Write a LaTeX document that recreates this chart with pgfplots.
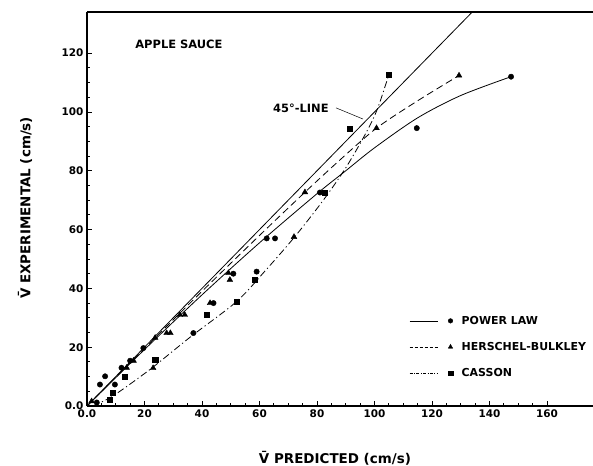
\documentclass[border=0pt]{standalone}
\usepackage{pgfplots}
\pgfplotsset{compat=1.18}
\usepackage{fontspec}
\setmainfont{DejaVu Sans}

\pgfplotstableread{
x y
0 0
20 19.2
40 37.8
60 55.5
80 72.2
90 80.0
100 87.8
115 98.0
130 105.6
147.5 112
}\powercurve

\pgfplotstableread{
x y
0 0
20 19.6
40 39.0
60 58.0
75.8 72.7
88 83.7
100.7 94.5
115 103.8
129.4 112.4
}\hbcurve

\pgfplotstableread{
x y
2 0
9 3.4
22 12.5
36 23.5
52 35.5
62 46
72.3 57.6
82.2 70
90 81
97 92.8
101 101
105 112.7
}\cassoncurve

\pgfplotstableread{
x y
3.4 1.2
4.5 7.3
6.3 10.1
9.7 7.3
12 13
15 15.4
19.6 19.7
37 24.8
44 35
50.9 45
59 45.7
62.5 57
65.4 57
81 72.6
114.7 94.5
147.5 112
}\powerpts

\pgfplotstableread{
x y
1.6 1.6
13.8 13
16.2 15.4
23 12.9
23.7 23.2
27.7 24.8
29 24.8
32.3 31
34 31
42.8 35
49.7 42.9
49.2 45.2
72 57.5
75.8 72.7
100.7 94.5
129.4 112.4
}\hbpts

\pgfplotstableread{
x y
8 2.2
9 4.6
13.2 10.1
23.7 15.8
41.6 31
52 35.5
58.4 42.9
82.8 72.6
91.5 94.3
105 112.7
}\cassonpts

\begin{document}
\begin{tikzpicture}
\begin{axis}[
  scale only axis,
  width=506bp, height=394bp,
  xmin=0, xmax=176, ymin=0, ymax=134,
  axis y line=left,
  axis line style={-, line width=1.6pt},
  y axis line style={-},
  xtick pos=bottom,
  tick align=inside,
  xtick={0,20,...,160},
  xticklabels={0.0,20,40,60,80,100,120,140,160},
  ytick={0,20,...,120},
  yticklabels={0.0,20,40,60,80,100,120},
  minor x tick num=3, minor y tick num=3,
  major tick length=5bp, minor tick length=3bp,
  tick style={line width=0.8pt, black},
  tick label style={font=\bfseries\fontsize{10.5}{12}\selectfont},
  xlabel={V̄ PREDICTED (cm/s)},
  ylabel={V̄ EXPERIMENTAL (cm/s)},
  label style={font=\bfseries\fontsize{13.5}{16}\selectfont},
  x label style={at={(axis description cs:0.49,-0.132)}, anchor=center},
  y label style={at={(axis description cs:-0.1225,0.503)}, anchor=center, rotate=0},
  legend style={at={(axis cs:112,31)}, anchor=north west, draw=none, fill=none,
     font=\bfseries\fontsize{11}{13}\selectfont, row sep=14.5bp, inner sep=0pt,
     nodes={inner sep=1pt}},
  legend cell align=left,
]
% 45 degree line
\addplot[line width=0.8pt, no marks, forget plot] coordinates {(0,0) (140,140)};
% fitted curves
\addplot[line width=0.8pt, smooth, no marks, forget plot] table {\powercurve};
\addplot[line width=0.8pt, smooth, no marks, dash pattern=on 7bp off 4bp, forget plot] table {\hbcurve};
\addplot[line width=0.8pt, smooth, no marks, dash pattern=on 7bp off 3bp on 1.2bp off 3bp, forget plot] table {\cassoncurve};
% data points
\addplot[only marks, mark=*, mark size=2.7bp, forget plot] table {\powerpts};
\addplot[only marks, mark=triangle*, mark size=3.3bp, forget plot] table {\hbpts};
\addplot[only marks, mark=square*, mark size=2.6bp, forget plot] table {\cassonpts};
% legend images
\addlegendimage{legend image code/.code={
  \draw[line width=0.6pt] (0bp,0bp) -- (28bp,0bp);
  \draw plot[mark=*, mark size=2.3bp] coordinates {(41bp,0bp)};
  \path (51bp,0bp);}}
\addlegendentry{POWER LAW}
\addlegendimage{legend image code/.code={
  \draw[line width=0.6pt, dash pattern=on 3bp off 2bp] (0bp,0bp) -- (28bp,0bp);
  \draw plot[mark=triangle*, mark size=2.6bp] coordinates {(41bp,0bp)};
  \path (51bp,0bp);}}
\addlegendentry{HERSCHEL-BULKLEY}
\addlegendimage{legend image code/.code={
  \draw[line width=0.6pt, dash pattern=on 3bp off 1.5bp on 0.8bp off 1.5bp] (0bp,0bp) -- (28bp,0bp);
  \draw plot[mark=square*, mark size=2.2bp] coordinates {(41bp,0bp)};
  \path (51bp,0bp);}}
\addlegendentry{CASSON}
% annotations
\node[anchor=west, font=\bfseries\fontsize{11.5}{13}\selectfont] at (axis cs:15.6,122.9) {APPLE SAUCE};
\node[anchor=west, font=\bfseries\fontsize{11.5}{13}\selectfont, inner sep=0pt] at (axis cs:64.7,101.3) {45°-LINE};
\draw[line width=0.5pt] (axis cs:86.6,101.4) -- (axis cs:96,97.6);
\end{axis}
\pgfresetboundingbox
\path (-87bp,-60bp) rectangle (506bp,406bp);
\end{tikzpicture}
\end{document}
